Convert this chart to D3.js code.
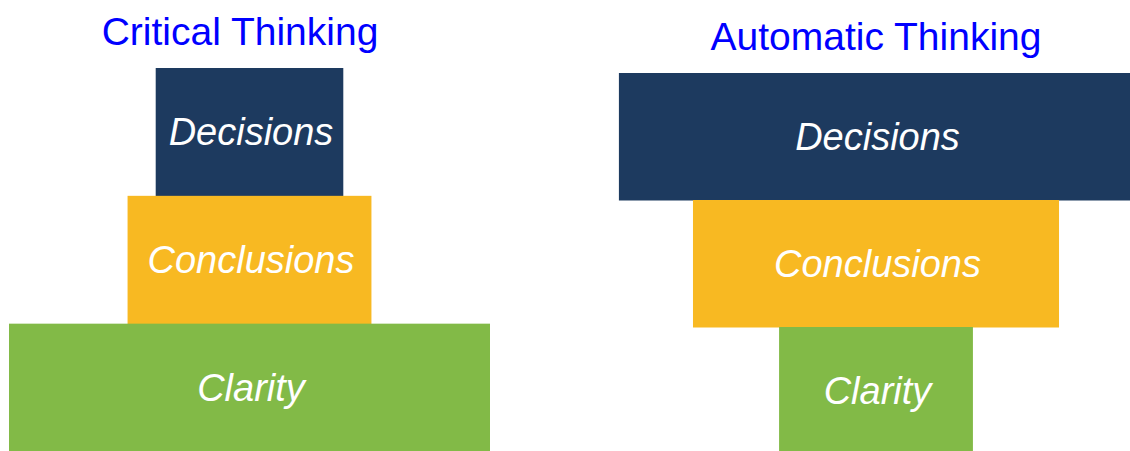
<!DOCTYPE html>
<html>
<head>
<meta charset="utf-8">
<script src="https://cdn.jsdelivr.net/npm/d3@7"></script>
<style>
html,body{margin:0;padding:0;background:#fff;}
svg{display:block;}
</style>
</head>
<body>
<svg id="chart" width="1130" height="451"></svg>
<script>
// Data
const levels = ["Decisions", "Conclusions", "Clarity"];          // top to bottom
const panels = ["Critical Thinking", "Automatic Thinking"];
const criticalValues = [39, 50.7, 100];                            // relative widths
const automaticValues = [106.9, 76.1, 40.3];
const levelColors = ["#1D3A5F", "#F8B922", "#82BA47"];

const svg = d3.select("#chart");
const W = 1130, H = 451;

const widthScale = d3.scaleLinear().domain([0, 100]).range([0, 481]);
const panelX = d3.scalePoint().domain(panels).range([249.5, 876]);

const layout = [
  {name: panels[0], values: criticalValues, yRange: [68, 451.5], titleX: 240, titleY: 45},
  {name: panels[1], values: automaticValues, yRange: [73, 454], titleX: 876, titleY: 50}
];

layout.forEach(p => {
  const cx = panelX(p.name);
  const y = d3.scaleBand().domain(levels).range(p.yRange).paddingInner(0).paddingOuter(0);
  const g = svg.append("g");
  const rows = levels.map((l, i) => ({level: l, value: p.values[i], color: levelColors[i]}));

  g.selectAll("rect").data(rows).enter().append("rect")
    .attr("x", d => cx - widthScale(d.value) / 2)
    .attr("y", d => y(d.level))
    .attr("width", d => widthScale(d.value))
    .attr("height", y.bandwidth() + 0.5)
    .attr("fill", d => d.color);

  g.selectAll("text.lbl").data(rows).enter().append("text")
    .attr("class", "lbl")
    .attr("x", cx + 1.5)
    .attr("y", d => y(d.level) + y.bandwidth() / 2 + 13.5)
    .attr("text-anchor", "middle")
    .attr("font-family", "'Liberation Sans', Arial, sans-serif")
    .attr("font-style", "italic")
    .attr("font-size", 38)
    .attr("fill", "#ffffff")
    .text(d => d.level);

  svg.append("text")
    .attr("x", p.titleX)
    .attr("y", p.titleY)
    .attr("text-anchor", "middle")
    .attr("font-family", "'Liberation Sans', Arial, sans-serif")
    .attr("font-size", 39)
    .attr("fill", "#0000FF")
    .text(p.name);
});
</script>
</body>
</html>
